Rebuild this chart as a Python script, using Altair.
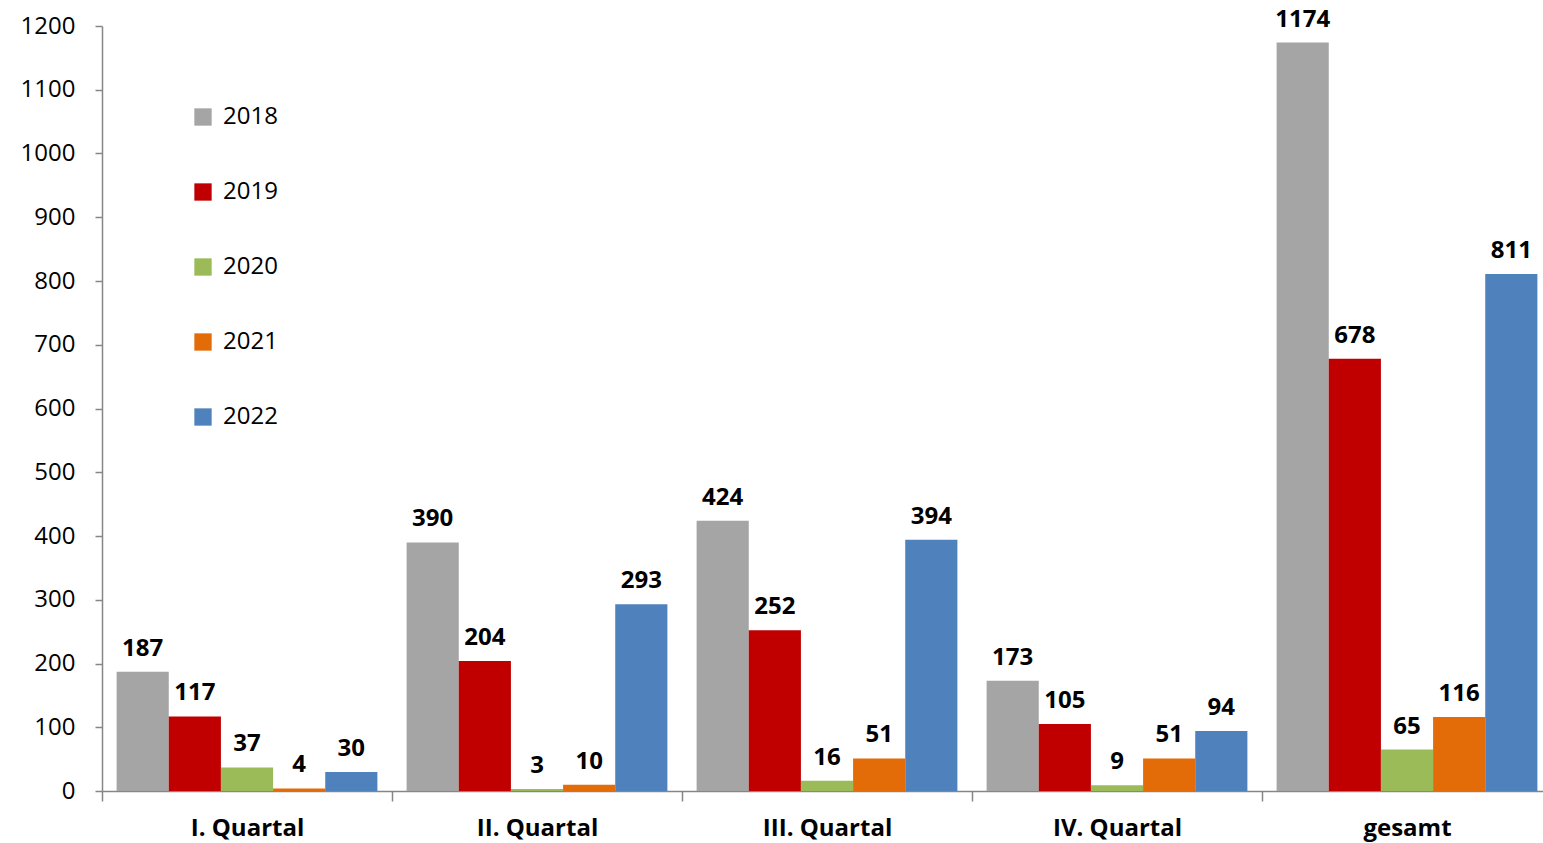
import altair as alt
import pandas as pd

# Quarterly counts per year, plus the yearly total
categories = ["I. Quartal", "II. Quartal", "III. Quartal", "IV. Quartal", "gesamt"]
years = ["2018", "2019", "2020", "2021", "2022"]
v2018 = [187, 390, 424, 173, 1174]
v2019 = [117, 204, 252, 105, 678]
v2020 = [37, 3, 16, 9, 65]
v2021 = [4, 10, 51, 51, 116]
v2022 = [30, 293, 394, 94, 811]
colors = ["#A5A5A5", "#C00000", "#9BBB59", "#E36C09", "#4F81BD"]
y_ticks = list(range(0, 1201, 100))

series = [v2018, v2019, v2020, v2021, v2022]
rows = []
for year, values in zip(years, series):
    for cat, val in zip(categories, values):
        rows.append({"Quartal": cat, "Jahr": year, "Anzahl": val})
df = pd.DataFrame(rows)

FONT = "Open Sans"
AXIS_GRAY = "#868686"

x_enc = alt.X(
    "Quartal:N",
    sort=categories,
    scale=alt.Scale(paddingInner=0, paddingOuter=0),
    axis=alt.Axis(
        title=None,
        labelAngle=0,
        labelFont=FONT,
        labelFontSize=24,
        labelFontWeight="bold",
        labelColor="#000000",
        labelPadding=15,
        tickBand="extent",
        tickSize=10,
        tickColor=AXIS_GRAY,
        domainColor=AXIS_GRAY,
        domainWidth=1.5,
        tickWidth=1.5,
        grid=False,
    ),
)
xo_enc = alt.XOffset("Jahr:N", sort=years, scale=alt.Scale(paddingInner=0, paddingOuter=0.28))
y_enc = alt.Y(
    "Anzahl:Q",
    scale=alt.Scale(domain=[0, 1200], nice=False),
    axis=alt.Axis(
        title=None,
        values=y_ticks,
        format="d",
        labelFont=FONT,
        labelFontSize=24,
        labelColor="#000000",
        labelPadding=20,
        tickSize=7,
        tickColor=AXIS_GRAY,
        domainColor=AXIS_GRAY,
        domainWidth=1.5,
        tickWidth=1.5,
        grid=False,
    ),
)

bars = alt.Chart(df).mark_bar().encode(
    x=x_enc,
    xOffset=xo_enc,
    y=y_enc,
    color=alt.Color(
        "Jahr:N",
        sort=years,
        scale=alt.Scale(domain=years, range=colors),
        legend=alt.Legend(
            title=None,
            orient="none",
            legendX=89,
            legendY=79,
            symbolType="square",
            symbolSize=300,
            symbolStrokeWidth=0,
            labelFont=FONT,
            labelFontSize=24,
            labelColor="#000000",
            labelOffset=8,
            rowPadding=51,
        ),
    ),
)

labels = alt.Chart(df).mark_text(
    font=FONT,
    fontSize=24,
    fontWeight="bold",
    color="#000000",
    baseline="alphabetic",
    dy=-16,
).encode(
    x=alt.X("Quartal:N", sort=categories),
    xOffset=alt.XOffset("Jahr:N", sort=years),
    y=alt.Y("Anzahl:Q"),
    text=alt.Text("Anzahl:Q"),
)

# The plot area runs a little past the right edge of the canvas.
chart = (
    alt.layer(bars, labels)
    .properties(
        width=1450,
        height=765,
        padding={"left": 102, "top": 26, "right": -9, "bottom": 52},
        autosize=alt.AutoSizeParams(type="none"),
        background="#FFFFFF",
    )
    .configure_view(stroke=None)
)

chart.save("out.html", embed_options={"renderer": "svg", "actions": False})
